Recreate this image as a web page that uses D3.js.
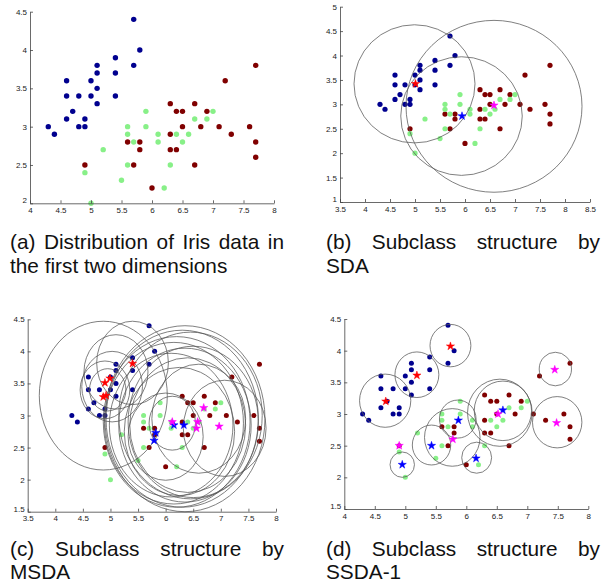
<!DOCTYPE html>
<html>
<head>
<meta charset="utf-8">
<script src="https://cdn.jsdelivr.net/npm/d3@7"></script>
<style>
  body { margin: 0; background: #fff; }
  svg { display: block; }
  text { font-family: "Liberation Sans", Arial, Helvetica, sans-serif; }
</style>
</head>
<body>
<svg id="fig" width="613" height="586"></svg>
<script>
// Iris subset, first two dimensions (sepal length, sepal width)
var class1 = [[5.7,4.4],[5.8,4.0],[5.4,3.9],[5.7,3.8],[5.1,3.8],[5.1,3.7],[5.4,3.7],[4.6,3.6],
  [5.0,3.6],[5.1,3.5],[4.6,3.4],[4.8,3.4],[5.0,3.4],[5.4,3.4],[5.1,3.3],[4.7,3.2],[4.6,3.1],
  [4.9,3.1],[4.3,3.0],[4.8,3.0],[4.9,3.0],[4.4,2.9]];
var class2 = [[5.9,3.2],[7.0,3.2],[6.7,3.1],[6.9,3.1],[5.6,3.0],[5.9,3.0],[5.6,2.9],[6.1,2.9],
  [6.4,2.9],[6.6,2.9],[5.7,2.8],[6.1,2.8],[6.5,2.8],[5.2,2.7],[5.6,2.5],[6.3,2.5],[4.9,2.4],
  [5.5,2.3],[6.2,2.2],[5.0,2.0]];
var class3 = [[7.7,3.8],[7.2,3.6],[6.3,3.3],[6.7,3.3],[6.4,3.2],[6.5,3.2],[6.9,3.2],[6.5,3.0],
  [6.8,3.0],[7.1,3.0],[7.6,3.0],[6.3,2.9],[7.3,2.9],[5.6,2.8],[5.8,2.8],[7.7,2.8],[5.8,2.7],
  [6.3,2.7],[6.4,2.7],[7.7,2.6],[4.9,2.5],[5.7,2.5],[6.7,2.5],[6.0,2.2]];

// subclass centres (stars) and radii (circles) for each method
var sdaRed = [[5.01,3.42]];
var sdaBlue = [[5.94,2.76]];
var sdaMagenta = [[6.58,2.98]];
var sdaCircles = [[4.99,3.42,1.21],[6.58,2.96,1.76],[5.93,2.76,1.215]];

var msdaRed = [[4.90,3.51],[4.99,3.58],[4.87,3.29],[4.92,3.31],[5.40,3.81]];
var msdaBlue = [[5.82,2.73],[5.79,2.61],[6.15,2.85],[6.33,2.85]];
var msdaMagenta = [[6.12,2.90],[6.69,3.12],[6.58,2.90],[6.56,2.80],[6.97,2.83]];
var msdaCircles = [[4.87,3.31,1.16],[4.95,3.40,0.33],[5.03,3.45,0.55],[4.90,3.40,0.45],
  [5.40,3.82,0.65],[5.10,3.68,0.58],
  [6.35,2.95,1.45],[6.30,2.95,1.38],[6.20,2.90,1.33],[6.45,3.00,1.30],[6.15,2.88,1.26],
  [6.35,2.85,1.20],[6.50,2.90,1.18],[6.10,2.85,1.12],[6.40,2.85,1.05],[6.25,2.75,1.00],
  [7.07,2.80,0.75],[6.00,2.67,0.68],[6.12,2.88,0.42],[6.60,2.95,0.85]];

var ssdaRed = [[4.68,3.20],[5.19,3.61],[5.74,4.07]];
var ssdaBlue = [[5.87,2.90],[5.43,2.50],[6.16,2.30],[4.95,2.20],[6.60,3.06]];
var ssdaMagenta = [[7.45,3.70],[7.48,2.86],[6.52,3.00],[5.78,2.60],[4.90,2.50]];
var ssdaCircles = [[4.67,3.21,0.42],[5.19,3.62,0.36],[5.74,4.08,0.335],[7.46,3.71,0.265],
  [7.49,2.87,0.405],[6.55,3.02,0.53],[6.60,3.05,0.47],[5.86,2.92,0.30],[5.77,2.63,0.455],
  [5.43,2.51,0.315],[6.17,2.31,0.245],[4.95,2.20,0.20]];

var captionA = ["(a) Distribution of Iris data in", "the first two dimensions"];
var captionB = ["(b) Subclass structure by", "SDA"];
var captionC = ["(c) Subclass structure by", "MSDA"];
var captionD = ["(d) Subclass structure by", "SSDA-1"];

var svg = d3.select('#fig');

function starPath(R) {
  var r = R * 0.382, pts = [];
  for (var i = 0; i < 10; i++) {
    var a = -Math.PI / 2 + i * Math.PI / 5;
    var rad = i % 2 ? r : R;
    pts.push([rad * Math.cos(a), rad * Math.sin(a)]);
  }
  return 'M' + pts.map(p => p[0].toFixed(2) + ',' + p[1].toFixed(2)).join('L') + 'Z';
}

function drawPanel(p) {
  var x = d3.scaleLinear().domain(p.xDomain).range([p.left, p.right]);
  var y = d3.scaleLinear().domain(p.yDomain).range([p.bottom, p.top]);
  var g = svg.append('g');

  var classes = [[class1, '#00008f'], [class3, '#800000'], [class2, '#88f088']];
  classes.forEach(function (c) {
    g.append('g').selectAll('circle')
      .data(c[0])
      .enter().append('circle')
      .attr('cx', d => x(d[0]))
      .attr('cy', d => y(d[1]))
      .attr('r', p.dotR)
      .attr('fill', c[1]);
  });

  g.append('g').selectAll('ellipse')
    .data(p.circles || [])
    .enter().append('ellipse')
    .attr('cx', d => x(d[0]))
    .attr('cy', d => y(d[1]))
    .attr('rx', d => x(d[0] + d[2]) - x(d[0]))
    .attr('ry', d => y(d[1]) - y(d[1] + d[2]))
    .attr('fill', 'none')
    .attr('stroke', '#555')
    .attr('stroke-width', 0.75);

  var stars = [[p.red, '#ff0000'], [p.blue, '#0000ff'], [p.magenta, '#ff00ff']];
  stars.forEach(function (s) {
    g.append('g').selectAll('path')
      .data(s[0] || [])
      .enter().append('path')
      .attr('d', starPath(4.3))
      .attr('transform', d => `translate(${x(d[0])},${y(d[1])})`)
      .attr('fill', s[1])
      .attr('stroke', s[1])
      .attr('stroke-width', 0.5);
  });

  var fmt = d3.format('~g');
  var xAxis = d3.axisBottom(x)
    .tickValues(d3.range(p.xDomain[0], p.xDomain[1] + 0.01, 0.5))
    .tickFormat(fmt).tickSizeInner(-3).tickSizeOuter(0).tickPadding(4);
  var yAxis = d3.axisLeft(y)
    .tickValues(d3.range(p.yDomain[0], p.yDomain[1] + 0.01, 0.5))
    .tickFormat(fmt).tickSizeInner(-3).tickSizeOuter(0).tickPadding(3);

  var ax = g.append('g')
    .attr('transform', `translate(0, ${p.bottom})`)
    .call(xAxis);
  var ay = g.append('g')
    .attr('transform', `translate(${p.left}, 0)`)
    .call(yAxis);
  [ax, ay].forEach(function (a) {
    a.select('.domain').attr('stroke', '#444').attr('stroke-width', 0.8);
    a.selectAll('line').attr('stroke', '#444').attr('stroke-width', 0.8);
    a.selectAll('text').attr('font-size', 8).attr('fill', '#222')
      .style('font-family', '"Liberation Sans", Arial, sans-serif');
  });
  // lowest y label sits just above the corner, as in the original
  ay.selectAll('.tick text').filter(d => d === p.yDomain[0]).attr('dy', '-0.05em');
}

function caption(lines, x0, y0, width) {
  lines.forEach(function (line, i) {
    var yb = y0 + i * 23.4;
    if (i === lines.length - 1) {
      svg.append('text').attr('x', x0).attr('y', yb)
        .attr('font-size', 20.8).attr('fill', '#111').text(line);
      return;
    }
    var words = line.split(' ');
    var nodes = words.map(w => svg.append('text').attr('y', yb)
      .attr('font-size', 20.8).attr('fill', '#111').text(w));
    var widths = nodes.map(n => n.node().getComputedTextLength());
    var gap = (width - d3.sum(widths)) / (words.length - 1);
    var cx = x0;
    nodes.forEach(function (n, k) { n.attr('x', cx); cx += widths[k] + gap; });
  });
}

drawPanel({ xDomain: [4, 8], yDomain: [2, 4.5], left: 30, right: 274, top: 11.7, bottom: 203.3,
  dotR: 2.7 });
drawPanel({ xDomain: [3.5, 8.5], yDomain: [1, 5], left: 340, right: 590, top: 6.7, bottom: 202,
  dotR: 2.6, circles: sdaCircles, red: sdaRed, blue: sdaBlue, magenta: sdaMagenta });
drawPanel({ xDomain: [3.5, 8], yDomain: [1.5, 4.5], left: 27.7, right: 276, top: 319.3, bottom: 511.7,
  dotR: 2.5, circles: msdaCircles, red: msdaRed, blue: msdaBlue, magenta: msdaMagenta });
drawPanel({ xDomain: [4, 8], yDomain: [1.5, 4.5], left: 344.3, right: 588.3, top: 319, bottom: 509,
  dotR: 2.5, circles: ssdaCircles, red: ssdaRed, blue: ssdaBlue, magenta: ssdaMagenta });

caption(captionA, 10, 249.3, 274);
caption(captionB, 326, 249.3, 274);
caption(captionC, 10, 555.7, 274);
caption(captionD, 326, 555.7, 274);
</script>
</body>
</html>
